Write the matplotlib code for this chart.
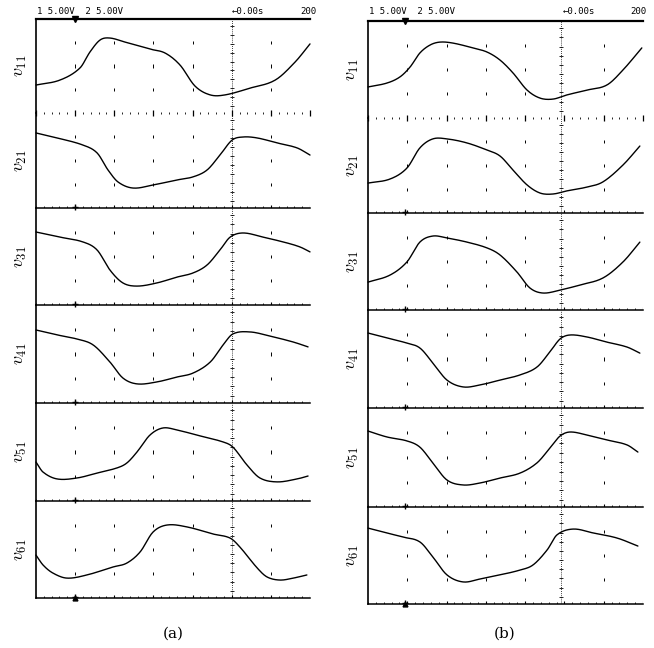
import numpy as np
import matplotlib as mpl
import matplotlib.pyplot as plt

mpl.rcParams['mathtext.fontset'] = 'cm'

# ---------------- data (time in divisions, voltage in divisions within strip) ----------------
trace_labels = [r'$v_{11}$', r'$v_{21}$', r'$v_{31}$', r'$v_{41}$', r'$v_{51}$', r'$v_{61}$']
header_left = '1 5.00V  2 5.00V'
header_time = '\u21900.00s'
header_scale = '200'
captions = ['(a)', '(b)']

# panel (a)
a11_t = [0, 0.61, 1.12, 1.38, 1.64, 1.89, 2.27, 2.91, 3.30, 3.68, 4.06, 4.45, 4.83, 5.47, 6.11, 6.62, 7.0]
a11_v = [1.19, 1.40, 1.91, 2.60, 3.11, 3.19, 3.02, 2.72, 2.55, 2.04, 1.15, 0.77, 0.77, 1.06, 1.40, 2.17, 2.94]
a21_t = [0, 0.54, 1.20, 1.56, 1.84, 2.10, 2.48, 2.99, 3.60, 4.01, 4.37, 4.70, 5.01, 5.29, 5.65, 6.16, 6.67, 7.0]
a21_v = [3.16, 2.95, 2.65, 2.32, 1.60, 1.09, 0.84, 0.97, 1.18, 1.31, 1.60, 2.23, 2.86, 2.99, 2.95, 2.74, 2.53, 2.23]
a31_t = [0, 0.61, 1.20, 1.56, 1.89, 2.22, 2.58, 3.09, 3.60, 4.01, 4.37, 4.70, 4.96, 5.29, 5.80, 6.41, 6.75, 7.0]
a31_v = [3.01, 2.80, 2.60, 2.27, 1.44, 0.91, 0.78, 0.91, 1.15, 1.32, 1.65, 2.27, 2.80, 2.97, 2.80, 2.56, 2.39, 2.19]
a41_t = [0, 0.54, 1.05, 1.46, 1.89, 2.22, 2.58, 3.09, 3.60, 4.01, 4.45, 4.78, 5.03, 5.47, 5.98, 6.57, 6.95]
a41_v = [2.98, 2.78, 2.61, 2.37, 1.67, 1.02, 0.78, 0.86, 1.06, 1.22, 1.67, 2.37, 2.82, 2.90, 2.73, 2.49, 2.29]
a51_t = [0, 0.18, 0.54, 1.05, 1.56, 2.07, 2.32, 2.58, 2.91, 3.24, 3.60, 4.11, 4.78, 5.03, 5.39, 5.72, 6.16, 6.67, 6.95]
a51_v = [1.59, 1.18, 0.90, 0.94, 1.14, 1.35, 1.55, 2.00, 2.69, 2.98, 2.90, 2.69, 2.41, 2.20, 1.47, 0.94, 0.78, 0.90, 1.02]
a61_t = [0, 0.18, 0.43, 0.79, 1.30, 1.97, 2.32, 2.66, 2.99, 3.35, 3.86, 4.52, 4.96, 5.21, 5.65, 5.90, 6.23, 6.57, 6.92]
a61_v = [1.77, 1.36, 1.03, 0.82, 0.95, 1.28, 1.44, 1.90, 2.72, 3.01, 2.93, 2.64, 2.47, 2.10, 1.24, 0.87, 0.74, 0.82, 0.95]

# panel (b)
b11_t = [0, 0.48, 0.81, 1.07, 1.32, 1.58, 1.83, 2.16, 2.67, 3.03, 3.36, 3.69, 4.05, 4.38, 4.71, 5.06, 5.57, 6.08, 6.49, 6.97]
b11_v = [1.28, 1.44, 1.69, 2.10, 2.68, 3.01, 3.13, 3.09, 2.89, 2.72, 2.39, 1.86, 1.15, 0.82, 0.78, 0.95, 1.15, 1.36, 1.98, 2.89]
b21_t = [0, 0.56, 0.99, 1.32, 1.65, 2.01, 2.52, 3.03, 3.36, 3.69, 4.05, 4.38, 4.71, 5.06, 5.57, 5.98, 6.49, 6.92]
b21_v = [1.26, 1.43, 1.89, 2.74, 3.12, 3.12, 2.95, 2.65, 2.40, 1.81, 1.18, 0.84, 0.80, 0.93, 1.09, 1.31, 2.02, 2.82]
b31_t = [0, 0.56, 0.99, 1.32, 1.65, 2.01, 2.52, 3.03, 3.36, 3.79, 4.12, 4.45, 4.89, 5.39, 5.98, 6.49, 6.92]
b31_v = [1.15, 1.44, 1.98, 2.80, 3.05, 2.97, 2.80, 2.56, 2.27, 1.57, 0.91, 0.70, 0.82, 1.03, 1.32, 1.98, 2.80]
b41_t = [0, 0.48, 0.99, 1.32, 1.65, 2.01, 2.42, 2.85, 3.36, 3.87, 4.30, 4.63, 4.89, 5.14, 5.57, 6.08, 6.59, 6.92]
b41_v = [3.06, 2.86, 2.65, 2.45, 1.84, 1.14, 0.86, 0.94, 1.14, 1.35, 1.67, 2.29, 2.82, 2.98, 2.90, 2.69, 2.49, 2.24]
b51_t = [0, 0.48, 0.99, 1.32, 1.65, 2.01, 2.42, 2.85, 3.36, 3.87, 4.30, 4.63, 4.89, 5.14, 5.57, 6.08, 6.59, 6.87]
b51_v = [3.07, 2.83, 2.67, 2.42, 1.78, 1.09, 0.89, 0.97, 1.17, 1.37, 1.78, 2.38, 2.87, 3.03, 2.91, 2.71, 2.51, 2.22]
b61_t = [0, 0.38, 0.89, 1.32, 1.65, 2.01, 2.42, 2.85, 3.36, 3.87, 4.20, 4.56, 4.81, 5.22, 5.73, 6.34, 6.87]
b61_v = [3.13, 2.97, 2.76, 2.56, 1.94, 1.20, 0.91, 1.03, 1.20, 1.40, 1.61, 2.23, 2.85, 3.09, 2.93, 2.72, 2.39]

panel_a = [(a11_t, a11_v), (a21_t, a21_v), (a31_t, a31_v), (a41_t, a41_v), (a51_t, a51_v), (a61_t, a61_v)]
panel_b = [(b11_t, b11_v), (b21_t, b21_v), (b31_t, b31_v), (b41_t, b41_v), (b51_t, b51_v), (b61_t, b61_v)]

cursor_a = 5.0
cursor_b = 4.91
trig_a = 1.0
trig_b = 0.93


def smooth_path(t, v, n=14):
    """Cubic Hermite rendering through the read points (drawing only)."""
    t = np.asarray(t, float)
    v = np.asarray(v, float)
    m = np.empty_like(v)
    m[1:-1] = (v[2:] - v[:-2]) / (t[2:] - t[:-2])
    m[0] = (v[1] - v[0]) / (t[1] - t[0])
    m[-1] = (v[-1] - v[-2]) / (t[-1] - t[-2])
    xs, ys = [], []
    for k in range(len(t) - 1):
        h = t[k + 1] - t[k]
        s = np.linspace(0, 1, n, endpoint=False)
        h00 = 2 * s**3 - 3 * s**2 + 1
        h10 = s**3 - 2 * s**2 + s
        h01 = -2 * s**3 + 3 * s**2
        h11 = s**3 - s**2
        xs.append(t[k] + s * h)
        ys.append(h00 * v[k] + h10 * h * m[k] + h01 * v[k + 1] + h11 * h * m[k + 1])
    xs.append([t[-1]])
    ys.append([v[-1]])
    return np.concatenate(xs), np.concatenate(ys)


# ---------------- layout ----------------
W, H = 654, 648
fig = plt.figure(figsize=(W / 100, H / 100), dpi=100)
fig.patch.set_facecolor('white')

layouts = [
    dict(x0=36, x1=310, ys=[19, 113, 208, 305, 403, 501, 598], data=panel_a,
         cursor=cursor_a, trig=trig_a, labx=20, cap=(173, 634), cap_text=captions[0],
         htime=232, hscale=300),
    dict(x0=368, x1=643, ys=[21, 118, 213, 310, 408, 507, 604], data=panel_b,
         cursor=cursor_b, trig=trig_b, labx=352, cap=(505, 634), cap_text=captions[1],
         htime=563, hscale=630),
]

minor = np.arange(0, 7.001, 0.2)
major = np.arange(0, 8)

for L in layouts:
    x0, x1, ys = L['x0'], L['x1'], L['ys']
    for i, (t, v) in enumerate(L['data']):
        top, bot = ys[i], ys[i + 1]
        ax = fig.add_axes([x0 / W, 1 - bot / H, (x1 - x0) / W, (bot - top) / H])
        ax.set_facecolor('none')
        ax.set_xlim(0, 7)
        ax.set_ylim(0, 4)
        ax.set_xticks([])
        ax.set_yticks([])
        ax.spines['right'].set_visible(False)
        ax.spines['left'].set_linewidth(1.2)
        ax.spines['top'].set_visible(i == 0)
        ax.spines['top'].set_linewidth(1.6)
        if i == 0:
            ax.spines['bottom'].set_visible(False)
            ax.vlines(minor, -0.06, 0.06, color='black', lw=0.6, clip_on=False)
            ax.vlines(major, -0.14, 0.14, color='black', lw=0.9, clip_on=False)
            ax.plot([L['trig']], [4.02], marker='v', color='black', ms=4, clip_on=False)
        else:
            ax.spines['bottom'].set_linewidth(1.1)
            ax.vlines(minor, 0, 0.08, color='black', lw=0.6)
            ax.vlines(major[1:], 0, 0.14, color='black', lw=0.8)
            ax.plot([L['trig']], [0.04], marker='+', color='black', ms=5, mew=1.0, clip_on=False)
        if i == 5:
            ax.plot([L['trig']], [0.02], marker='^', color='black', ms=3.5, clip_on=False)
        # graticule dots
        for gx in major[1:7]:
            if abs(gx - L['cursor']) < 0.3:
                continue
            ax.vlines([gx] * 3, np.array([1, 2, 3]) - 0.07, np.array([1, 2, 3]) + 0.07,
                      color='black', lw=0.7)
        # cursor line
        ax.axvline(L['cursor'], color='black', lw=0.6, ls=(0, (1.0, 1.5)))
        ax.plot([L['cursor']] * 10, np.linspace(0.3, 3.7, 10), ls='none', marker='_',
                color='black', ms=3.5, mew=0.6)
        # trace
        sx, sy = smooth_path(t, v)
        ax.plot(sx, sy, color='black', lw=1.0, solid_capstyle='round', clip_on=False)
        # label
        fig.text(L['labx'] / W, 1 - (top + bot) / 2 / H, trace_labels[i], rotation=90,
                 ha='center', va='center', fontsize=13)
    # header
    fig.text((x0 + 1) / W, 1 - 11 / H, header_left, fontsize=6.5, family='DejaVu Sans Mono',
             ha='left', va='center')
    fig.text(L['htime'] / W, 1 - 11 / H, header_time, fontsize=6.5, family='DejaVu Sans Mono',
             ha='left', va='center')
    fig.text(L['hscale'] / W, 1 - 11 / H, header_scale, fontsize=6.5, family='DejaVu Sans Mono',
             ha='left', va='center')
    fig.text(L['cap'][0] / W, 1 - L['cap'][1] / H, L['cap_text'], fontsize=11,
             family='DejaVu Serif', ha='center', va='center')

fig.savefig('out.png', dpi=100, facecolor='white')
